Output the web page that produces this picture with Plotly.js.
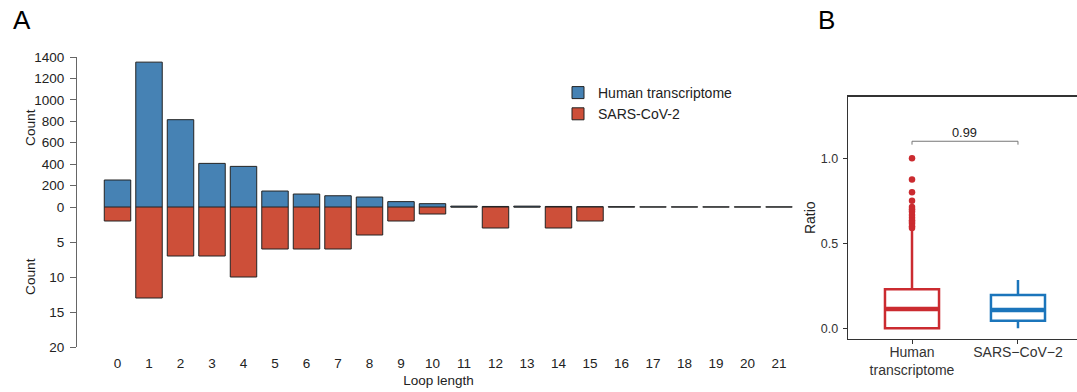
<!DOCTYPE html>
<html>
<head>
<meta charset="utf-8">
<script src="https://cdn.plot.ly/plotly-3.0.1.min.js"></script>
<style>html,body{margin:0;padding:0;background:#fff;}#chart{width:1077px;height:392px;}</style>
</head>
<body>
<div id="chart"></div>
<script>
// ---- Panel A data ----
const loopLengths = [0,1,2,3,4,5,6,7,8,9,10,11,12,13,14,15,16,17,18,19,20,21];
const humanCounts = [252,1352,815,407,379,149,121,105,93,50,31,8,5,8,5,3,3,1,1,1,1,1];
const sarsCounts  = [2,13,7,7,10,6,6,6,4,2,1,0,3,0,3,2,0,0,0,0,0,0];
const seriesNames = ['Human transcriptome','SARS-CoV-2'];
const topTicks = [0,200,400,600,800,1000,1200,1400];
const bottomTicks = [5,10,15,20];

// ---- Panel B data ----
const groupLabels = ['Human<br>transcriptome','SARS\u2212CoV\u22122'];
const groupPos = [0,1];
const q1s = [0.0, 0.045];
const medians = [0.113, 0.108];
const q3s = [0.230, 0.196];
const lowerFences = [0.0, 0.0];
const upperFences = [0.58, 0.284];
const humanOutliers = [1.0,0.875,0.8,0.75,0.714,0.7,0.6875,0.667,0.65,0.636,0.625,0.615,0.6,0.59];
const pValueText = '0.99';
const bracketY = 1.10;

const blue = '#4682B4', red = '#CD4F39';
const bRed = '#CB2B30', bBlue = '#1B75BB';
const font = 'Liberation Sans, Arial, sans-serif';
const W = 1077, H = 392;
const px = v => v / W, py = v => (H - v) / H;

const boxW = 0.51;
const traces = [
  {type:'bar', x:loopLengths, y:humanCounts, name:seriesNames[0], xaxis:'x', yaxis:'y',
   width:0.84, marker:{color:blue, line:{color:'#222', width:1}}},
  {type:'bar', x:loopLengths, y:sarsCounts, name:seriesNames[1], xaxis:'x', yaxis:'y2',
   width:0.84, marker:{color:red, line:{color:'#222', width:1}}},
];
const boxColors = [bRed, bBlue];
groupPos.forEach((g,i)=>{
  traces.push({type:'box', x:[g], q1:[q1s[i]], median:[medians[i]], q3:[q3s[i]],
    lowerfence:[lowerFences[i]], upperfence:[upperFences[i]], width:boxW, whiskerwidth:0,
    boxpoints:false, xaxis:'x2', yaxis:'y3', showlegend:false,
    line:{color:boxColors[i], width:2.5}, fillcolor:'rgba(0,0,0,0)', hoverinfo:'skip'});
  traces.push({type:'scatter', mode:'lines', x:[g-boxW/2+0.01, g+boxW/2-0.01], y:[medians[i],medians[i]],
    xaxis:'x2', yaxis:'y3', showlegend:false, line:{color:boxColors[i], width:4.5}, hoverinfo:'skip'});
});
traces.push({type:'scatter', mode:'markers', x:humanOutliers.map(()=>groupPos[0]), y:humanOutliers,
  xaxis:'x2', yaxis:'y3', showlegend:false, marker:{color:bRed, size:6.5}, hoverinfo:'skip'});
traces.push({type:'scatter', mode:'lines', x:[groupPos[0],groupPos[0],groupPos[1],groupPos[1]],
  y:[bracketY-0.02,bracketY,bracketY,bracketY-0.02], xaxis:'x2', yaxis:'y3', showlegend:false,
  line:{color:'#777', width:1}, hoverinfo:'skip'});

const layout = {
  width:W, height:H, margin:{l:0,r:0,t:0,b:0}, paper_bgcolor:'#fff', plot_bgcolor:'rgba(0,0,0,0)',
  font:{family:font, color:'#222', size:13.5},
  showlegend:true,
  legend:{x:px(558), xanchor:'left', y:py(77), yanchor:'top', font:{size:14, color:'#222'},
          bgcolor:'rgba(0,0,0,0)', tracegroupgap:0},
  bargap:0.16,
  xaxis:{domain:[px(77), px(800)], range:[-1.286, 21.667], anchor:'y2', showgrid:false, zeroline:false,
         showline:false, ticks:'', tickmode:'array', tickvals:loopLengths, ticktext:loopLengths.map(String),
         ticklabelstandoff:6, tickfont:{size:13.5, color:'#222'},
         title:{text:'Loop length', font:{size:13.5, color:'#222'}, standoff:6}},
  yaxis:{domain:[py(207), py(57)], range:[0,1400], anchor:'x', showgrid:false, zeroline:false,
         showline:true, linecolor:'#666', linewidth:1, ticks:'outside', ticklen:6, tickcolor:'#666',
         tickvals:topTicks, ticklabelstandoff:3, tickfont:{size:13.5, color:'#222'}},
  yaxis2:{domain:[py(347), py(207)], range:[20,0], anchor:'x', showgrid:false, zeroline:false,
         showline:true, linecolor:'#666', linewidth:1, ticks:'outside', ticklen:6, tickcolor:'#666',
         tickvals:bottomTicks, ticklabelstandoff:3, tickfont:{size:13.5, color:'#222'}},
  xaxis2:{domain:[px(848), 1], range:[-0.604, 1.557], anchor:'y3', showgrid:false, zeroline:false,
         showline:true, mirror:true, linecolor:'#333', linewidth:1.3, ticks:'outside', ticklen:4,
         tickcolor:'#333', tickmode:'array', tickvals:groupPos, ticktext:groupLabels,
         tickfont:{size:14, color:'#333'}, ticklabelstandoff:-4},
  yaxis3:{domain:[py(338.7), py(96.7)], range:[-0.061, 1.362], anchor:'x2', showgrid:false, zeroline:false,
         showline:true, linecolor:'#333', linewidth:1.3, ticks:'outside', ticklen:4, tickcolor:'#333',
         tickvals:[0,0.5,1], tickformat:'.1f', tickfont:{size:12.5, color:'#333'}, ticklabelstandoff:2,
         title:{text:'Ratio', font:{size:14, color:'#222'}, standoff:2}},
  annotations:[
    {text:'A', xref:'paper', yref:'paper', x:px(11), y:py(20), xanchor:'left', yanchor:'middle',
     showarrow:false, font:{size:26, color:'#000'}},
    {text:'B', xref:'paper', yref:'paper', x:px(816), y:py(20), xanchor:'left', yanchor:'middle',
     showarrow:false, font:{size:26, color:'#000'}},
    {text:'Count', xref:'paper', yref:'paper', x:px(30), y:py(128), textangle:-90, xanchor:'center', yanchor:'middle',
     showarrow:false, font:{size:13.7, color:'#222'}},
    {text:'Count', xref:'paper', yref:'paper', x:px(30), y:py(277), textangle:-90, xanchor:'center', yanchor:'middle',
     showarrow:false, font:{size:13.7, color:'#222'}},
    {text:pValueText, xref:'x2', yref:'y3', x:(groupPos[0]+groupPos[1])/2, y:bracketY, yanchor:'bottom', yshift:-1,
     showarrow:false, font:{size:12.8, color:'#222'}}
  ]
};
Plotly.newPlot('chart', traces, layout, {displayModeBar:false, staticPlot:true});
</script>
</body>
</html>
